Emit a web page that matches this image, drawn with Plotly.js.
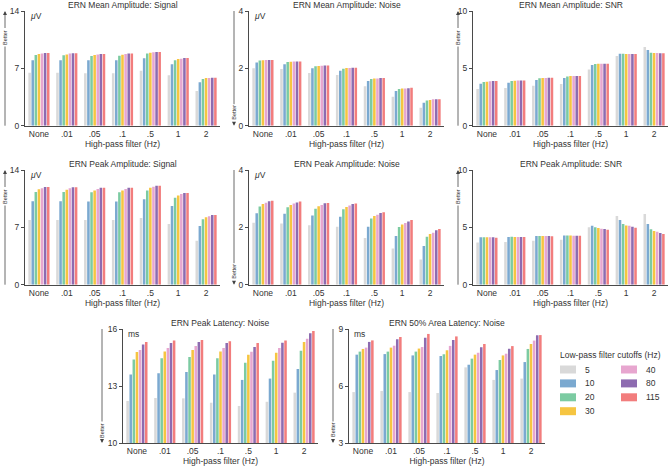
<!DOCTYPE html>
<html>
<head>
<meta charset="utf-8">
<script src="https://cdn.plot.ly/plotly-3.0.1.min.js"></script>
<style>html,body{margin:0;padding:0;background:#fff;}#chart{width:672px;height:470px;}</style>
</head>
<body>
<div id="chart"></div>
<script>
// High-pass filter categories (x axis) and low-pass filter cutoffs (series)
const highPass = ['None', '.01', '.05', '.1', '.5', '1', '2'];
const lowPass = ['5', '10', '20', '30', '40', '80', '115'];
const lowPassColors = ['#d9d9d9', '#7ba9d0', '#7ccba2', '#f6c541', '#e7a6cf', '#8d6bb0', '#f27d7d'];

// Each row = one high-pass category; values across low-pass cutoffs 5..115
const meanSignal = [
  [6.47, 8.0, 8.63, 8.75, 8.8, 8.87, 8.87],
  [6.47, 8.0, 8.6, 8.7, 8.8, 8.83, 8.83],
  [6.4, 7.98, 8.5, 8.63, 8.7, 8.75, 8.75],
  [6.4, 7.98, 8.55, 8.67, 8.75, 8.8, 8.8],
  [6.7, 8.22, 8.8, 8.9, 8.95, 9.0, 9.0],
  [6.15, 7.5, 8.0, 8.13, 8.18, 8.26, 8.26],
  [4.23, 5.3, 5.7, 5.82, 5.82, 5.86, 5.86]
];
const meanNoise = [
  [2.0, 2.2, 2.27, 2.28, 2.29, 2.29, 2.29],
  [1.98, 2.14, 2.22, 2.23, 2.24, 2.24, 2.24],
  [1.84, 2.0, 2.07, 2.08, 2.09, 2.1, 2.1],
  [1.77, 1.92, 1.99, 2.01, 2.01, 2.02, 2.02],
  [1.38, 1.56, 1.63, 1.65, 1.65, 1.66, 1.66],
  [1.01, 1.21, 1.28, 1.3, 1.3, 1.31, 1.32],
  [0.63, 0.8, 0.88, 0.9, 0.92, 0.92, 0.92]
];
const meanSNR = [
  [3.2, 3.66, 3.8, 3.84, 3.87, 3.9, 3.9],
  [3.28, 3.75, 3.9, 3.92, 3.95, 3.95, 3.95],
  [3.49, 3.98, 4.13, 4.16, 4.16, 4.19, 4.19],
  [3.63, 4.16, 4.3, 4.33, 4.33, 4.33, 4.33],
  [4.91, 5.29, 5.38, 5.4, 5.4, 5.4, 5.4],
  [6.08, 6.28, 6.28, 6.25, 6.25, 6.25, 6.25],
  [6.86, 6.6, 6.37, 6.34, 6.34, 6.31, 6.31]
];
const peakSignal = [
  [7.9, 10.2, 11.3, 11.64, 11.76, 11.92, 11.92],
  [7.9, 10.2, 11.3, 11.6, 11.76, 11.88, 11.88],
  [7.9, 10.17, 11.27, 11.5, 11.68, 11.84, 11.84],
  [7.9, 10.17, 11.27, 11.5, 11.68, 11.84, 11.84],
  [8.14, 10.42, 11.5, 11.84, 11.97, 12.09, 12.09],
  [7.4, 9.6, 10.62, 10.9, 11.07, 11.19, 11.19],
  [5.37, 7.16, 8.0, 8.22, 8.34, 8.5, 8.5]
];
const peakNoise = [
  [2.16, 2.49, 2.73, 2.81, 2.86, 2.91, 2.93],
  [2.13, 2.47, 2.7, 2.78, 2.83, 2.87, 2.9],
  [2.07, 2.41, 2.65, 2.74, 2.78, 2.84, 2.85],
  [2.02, 2.37, 2.63, 2.71, 2.76, 2.81, 2.83],
  [1.63, 2.02, 2.31, 2.4, 2.44, 2.5, 2.53],
  [1.26, 1.7, 2.01, 2.1, 2.15, 2.2, 2.26],
  [0.88, 1.35, 1.67, 1.77, 1.81, 1.9, 1.94]
];
const peakSNR = [
  [3.69, 4.13, 4.13, 4.13, 4.13, 4.13, 4.1],
  [3.72, 4.16, 4.19, 4.16, 4.16, 4.16, 4.16],
  [3.84, 4.24, 4.24, 4.24, 4.24, 4.24, 4.22],
  [3.92, 4.3, 4.3, 4.3, 4.27, 4.27, 4.27],
  [5.0, 5.15, 5.0, 4.94, 4.88, 4.85, 4.8],
  [5.99, 5.64, 5.29, 5.17, 5.15, 5.06, 4.97],
  [6.16, 5.29, 4.83, 4.68, 4.62, 4.5, 4.42]
];
const peakLatency = [
  [12.21, 13.6, 14.4, 14.79, 14.9, 15.18, 15.32],
  [12.37, 13.67, 14.46, 14.82, 15.0, 15.26, 15.39],
  [12.35, 13.74, 14.53, 14.9, 15.1, 15.32, 15.42],
  [12.12, 13.6, 14.46, 14.82, 15.0, 15.26, 15.35],
  [11.95, 13.32, 14.23, 14.65, 14.8, 15.05, 15.26],
  [12.17, 13.39, 14.33, 14.75, 15.0, 15.28, 15.39],
  [12.65, 13.9, 14.86, 15.32, 15.49, 15.77, 15.9]
];
const areaLatency = [
  [5.68, 7.65, 7.81, 7.95, 8.02, 8.32, 8.4],
  [5.74, 7.68, 7.81, 8.02, 8.12, 8.46, 8.58],
  [5.68, 7.61, 7.81, 7.97, 8.05, 8.54, 8.74],
  [5.63, 7.58, 7.67, 7.88, 8.11, 8.42, 8.61],
  [6.98, 7.12, 7.44, 7.65, 7.75, 8.04, 8.21],
  [6.32, 6.84, 7.37, 7.61, 7.7, 7.96, 8.1],
  [6.39, 7.26, 7.95, 8.21, 8.39, 8.67, 8.68]
];

const panelTitles = ['ERN Mean Amplitude: Signal', 'ERN Mean Amplitude: Noise', 'ERN Mean Amplitude: SNR',
  'ERN Peak Amplitude: Signal', 'ERN Peak Amplitude: Noise', 'ERN Peak Amplitude: SNR',
  'ERN Peak Latency: Noise', 'ERN 50% Area Latency: Noise'];
const panelData = [meanSignal, meanNoise, meanSNR, peakSignal, peakNoise, peakSNR, peakLatency, areaLatency];
const yRanges = [[0, 14], [0, 4], [0, 10], [0, 14], [0, 4], [0, 10], [10, 16], [3, 9]];
const yTicks = [[0, 7, 14], [0, 2, 4], [0, 5, 10], [0, 7, 14], [0, 2, 4], [0, 5, 10], [10, 13, 16], [3, 6, 9]];
const unitLabels = ['<i>μ</i>V', '<i>μ</i>V', '', '<i>μ</i>V', '<i>μ</i>V', '', 'ms', 'ms'];
const betterDir = ['up', 'down', 'up', 'up', 'down', 'up', 'down', 'down'];
const xTitle = 'High-pass filter (Hz)';
const legendTitle = 'Low-pass filter cutoffs (Hz)';

// ---- layout geometry (pixels) ----
const W = 672, H = 470;
const boxes = [ // [left, right, top, bottom]
  [25, 220, 11, 125.7], [249, 444, 11, 125.7], [473, 668, 11, 125.7],
  [25, 220, 170, 284.7], [249, 444, 170, 284.7], [473, 668, 170, 284.7],
  [123, 318, 329, 443], [349, 545, 329, 443]
];
const betterX = [5, 234, 458, 5, 234, 458, 102, 333];
const px = v => v / W;
const py = v => 1 - v / H;

const FONT = 'Liberation Sans, Arial, sans-serif';
const AXC = '#4a4a4a';
const traces = [];
const layout = {
  width: W, height: H,
  margin: {l: 0, r: 0, t: 0, b: 0},
  paper_bgcolor: '#fff', plot_bgcolor: '#fff',
  barmode: 'group', bargap: 0.22, bargroupgap: 0.18,
  showlegend: false,
  font: {family: FONT, size: 8, color: '#333'},
  annotations: [], shapes: []
};

panelData.forEach((rows, p) => {
  const n = p + 1;
  const xa = n === 1 ? 'x' : 'x' + n;
  const ya = n === 1 ? 'y' : 'y' + n;
  lowPass.forEach((lp, s) => {
    traces.push({
      type: 'bar', x: highPass, y: rows.map(r => r[s]),
      xaxis: xa, yaxis: ya, name: lp,
      marker: {color: lowPassColors[s], line: {width: 0}},
      hoverinfo: 'skip', showlegend: false
    });
  });
  const b = boxes[p];
  layout['xaxis' + (n === 1 ? '' : n)] = {
    domain: [px(b[0]), px(b[1])], anchor: ya,
    type: 'category', showline: true, linecolor: AXC, linewidth: 1,
    ticks: '', showgrid: false, zeroline: false, fixedrange: true,
    tickfont: {size: 8.5, color: '#333'},
    title: {text: xTitle, font: {size: 8.5, color: '#333'}, standoff: 1}
  };
  layout['yaxis' + (n === 1 ? '' : n)] = {
    domain: [py(b[3]), py(b[2])], anchor: xa,
    range: yRanges[p], tickvals: yTicks[p],
    showline: true, linecolor: AXC, linewidth: 1,
    ticks: 'outside', ticklen: 3, tickcolor: AXC, tickwidth: 1,
    showgrid: false, zeroline: false, fixedrange: true,
    tickfont: {size: 8.5, color: '#333'}
  };
  // panel title
  layout.annotations.push({
    text: panelTitles[p], xref: 'paper', yref: 'paper',
    x: px((b[0] + b[1]) / 2), y: py(b[2] - 6), xanchor: 'center', yanchor: 'middle',
    showarrow: false, font: {size: 8.5, color: '#333'}
  });
  // unit label
  if (unitLabels[p]) {
    layout.annotations.push({
      text: unitLabels[p], xref: 'paper', yref: 'paper',
      x: px(b[0] + 3), y: py(b[2] + 5), xanchor: 'left', yanchor: 'middle',
      showarrow: false, font: {size: 8.5, color: '#333'}
    });
  }
  // "Better" indicator
  const bx = betterX[p];
  const gap = 8.5;
  if (betterDir[p] === 'up') {
    const tc = b[2] + 27;
    layout.annotations.push({text: 'Better', textangle: -90, xref: 'paper', yref: 'paper',
      x: px(bx), y: py(tc), xanchor: 'center', yanchor: 'middle', showarrow: false,
      font: {size: 5.5, color: '#333'}});
    layout.annotations.push({text: '', xref: 'paper', yref: 'paper', x: px(bx), y: py(b[2]),
      ax: 0, ay: tc - gap - b[2], showarrow: true, arrowhead: 2, arrowsize: 1, arrowwidth: 0.8, arrowcolor: '#444'});
    layout.shapes.push({type: 'line', xref: 'paper', yref: 'paper', x0: px(bx), x1: px(bx),
      y0: py(tc + gap), y1: py(b[3]), line: {color: '#444', width: 0.8}});
  } else {
    const tc = b[3] - 13;
    layout.annotations.push({text: 'Better', textangle: -90, xref: 'paper', yref: 'paper',
      x: px(bx), y: py(tc), xanchor: 'center', yanchor: 'middle', showarrow: false,
      font: {size: 5.5, color: '#333'}});
    layout.annotations.push({text: '', xref: 'paper', yref: 'paper', x: px(bx), y: py(b[3]),
      ax: 0, ay: -(b[3] - tc - gap), showarrow: true, arrowhead: 2, arrowsize: 1, arrowwidth: 0.8, arrowcolor: '#444'});
    layout.shapes.push({type: 'line', xref: 'paper', yref: 'paper', x0: px(bx), x1: px(bx),
      y0: py(b[2]), y1: py(tc - gap), line: {color: '#444', width: 0.8}});
  }
});

// ---- manual legend (two columns: 4 + 3) ----
layout.annotations.push({text: legendTitle, xref: 'paper', yref: 'paper', x: px(558), y: py(355),
  xanchor: 'left', yanchor: 'middle', showarrow: false, font: {size: 8.5, color: '#333'}});
lowPass.forEach((lp, s) => {
  const col = s < 4 ? 0 : 1;
  const row = s < 4 ? s : s - 4;
  const sx = col === 0 ? 560 : 621;
  const cy = 369.5 + row * 13.9;
  layout.shapes.push({type: 'rect', xref: 'paper', yref: 'paper',
    x0: px(sx), x1: px(sx + 16), y0: py(cy + 4), y1: py(cy - 4),
    fillcolor: lowPassColors[s], line: {width: 0}});
  layout.annotations.push({text: lp, xref: 'paper', yref: 'paper', x: px(sx + 23), y: py(cy),
    xanchor: 'left', yanchor: 'middle', showarrow: false, font: {size: 8.5, color: '#333'}});
});

Plotly.newPlot('chart', traces, layout, {staticPlot: true, displayModeBar: false});
</script>
</body>
</html>
